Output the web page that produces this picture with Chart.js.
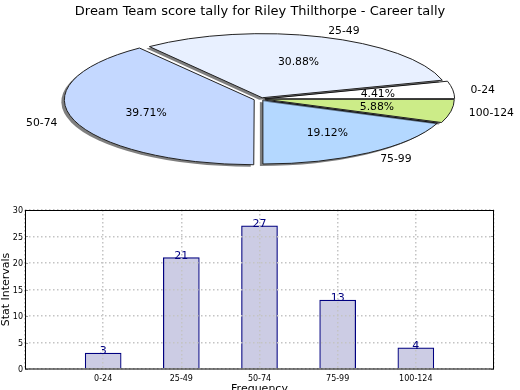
<!DOCTYPE html>
<html><head><meta charset="utf-8">
<script src="https://cdn.jsdelivr.net/npm/chart.js@4"></script>
<style>
html,body{margin:0;padding:0;background:#fff;overflow:hidden;width:520px;height:390px}
canvas{position:absolute;left:0}
#pie{top:0}#bar{top:200px}
</style></head><body>
<canvas id="pie" width="520" height="390"></canvas>
<canvas id="bar" width="520" height="200"></canvas>
<script>
const categories = ['0-24','25-49','50-74','75-99','100-124'];
const values = [3,21,27,13,4];
const percentLabels = ['4.41%','30.88%','39.71%','19.12%','5.88%'];
const pieColors = ['#FFFFFF','#E8F0FF','#C4D8FF','#B4D8FF','#CCEC88'];
const pieOffsets = [14,14,26,12,14];
const chartTitle = 'Dream Team score tally for Riley Thilthorpe - Career tally';
const xAxisTitle = 'Frequency';
const yAxisTitle = 'Stat Intervals';
const FONT = '"DejaVu Sans"';
const TEXT = '#000';
Chart.defaults.font.family = FONT;
Chart.defaults.animation = false;

const CX = 261, CY = 99, RX = 187, RY = 64;
const ellipsePie = {
  id:'ellipsePie',
  beforeDatasetsDraw(chart){
    const ctx = chart.ctx, a = chart.getDatasetMeta(0).data[0];
    const sx = RX/a.outerRadius, sy = RY/a.outerRadius;
    ctx.save();
    ctx.translate(CX,CY); ctx.scale(sx,-sy); ctx.translate(-a.x,-a.y);
    ctx.shadowColor='rgba(0,0,0,0.5)'; ctx.shadowOffsetX=-3; ctx.shadowOffsetY=2; ctx.shadowBlur=0;
    // keep the outline an even width although the path is squashed; only the fill casts a shadow
    ctx.stroke = function(){ const c=this; c.save(); c.setTransform(1,0,0,1,0,0); c.shadowColor='transparent'; CanvasRenderingContext2D.prototype.stroke.call(c); c.restore(); };
  },
  afterDatasetsDraw(chart){
    const ctx = chart.ctx; delete ctx.stroke; ctx.restore();
    const meta = chart.getDatasetMeta(0);
    ctx.save(); ctx.fillStyle=TEXT; ctx.font='10.8px '+FONT; ctx.textBaseline='middle';
    meta.data.forEach((arc,i)=>{
      const mid=(arc.startAngle+arc.endAngle)/2, c=Math.cos(mid), s=Math.sin(mid);
      const ex=pieOffsets[i]/4/arc.outerRadius;
      ctx.textAlign='center';
      ctx.fillText(percentLabels[i], CX+RX*(0.61+ex)*c, CY+1-RY*(0.61+ex)*s);
      ctx.textAlign=c>=0?'left':'right';
      ctx.fillText(categories[i], CX+RX*(1.11+ex)*c, CY+1-RY*(1.11+ex)*s);
    });
    ctx.restore();
  }
};
new Chart(document.getElementById('pie'),{
  type:'pie',
  data:{labels:categories,datasets:[{data:values,backgroundColor:pieColors,borderColor:'#222',borderWidth:1,offset:pieOffsets}]},
  options:{responsive:false,rotation:90,layout:{padding:0},
    plugins:{legend:{display:false},tooltip:{enabled:false},
      title:{display:true,text:chartTitle,color:TEXT,font:{size:13,weight:'normal'},padding:{top:4,bottom:4}}}},
  plugins:[ellipsePie]
});

const valueLabels = {
  id:'valueLabels',
  afterDraw(chart){
    const ctx=chart.ctx,{left,right}=chart.chartArea,ys=chart.scales.y;
    ctx.save(); ctx.strokeStyle='#999'; ctx.lineWidth=1; ctx.beginPath();
    ys.ticks.forEach(t=>{const y=Math.round(ys.getPixelForValue(t.value))+.5; ctx.moveTo(left,y);ctx.lineTo(left+3,y);ctx.moveTo(right,y);ctx.lineTo(right-3,y);});
    ctx.stroke();
    ctx.strokeStyle='#000';ctx.strokeRect(left+.5,chart.chartArea.top+.5,right-left-1,chart.chartArea.bottom-chart.chartArea.top-.5);
    ctx.fillStyle='#000080'; ctx.font='11px '+FONT; ctx.textAlign='center'; ctx.textBaseline='alphabetic';
    chart.getDatasetMeta(0).data.forEach((b,i)=>{ const v=chart.data.datasets[0].data[i]; if(v!=null) ctx.fillText(String(v),b.x,b.y+1); });
    ctx.restore();
  }
};
new Chart(document.getElementById('bar'),{
  type:'bar',
  data:{labels:['',...categories,''],datasets:[{data:[null,...values,null],backgroundColor:'#CCCCE4',borderColor:'#000080',borderWidth:1.2,barThickness:36}]},
  options:{responsive:false,layout:{padding:{top:10,right:26,left:0,bottom:0}},
    plugins:{legend:{display:false},tooltip:{enabled:false},title:{display:false}},
    scales:{
      x:{offset:false,
        grid:{color:'#C4C4C4',lineWidth:1.5,z:1,drawTicks:false,offset:false},
        border:{display:false,dash:[1.5,2.5]},
        ticks:{color:TEXT,font:{size:8},padding:5,maxRotation:0,autoSkip:false},
        title:{display:true,text:xAxisTitle,color:TEXT,font:{size:11},padding:{top:0,bottom:4}},
        afterFit(s){s.height=31;}},
      y:{min:0,max:30,
        grid:{color:'#C4C4C4',lineWidth:1.5,z:1,drawTicks:false},
        border:{display:false,dash:[1.5,2.5]},
        ticks:{stepSize:5,color:TEXT,font:{size:8},padding:2,labelOffset:1},
        title:{display:true,text:yAxisTitle,color:TEXT,font:{size:11},padding:{top:0,bottom:0}},
        afterFit(s){s.width=25;}}
    }
  },
  plugins:[valueLabels]
});
</script></body></html>
